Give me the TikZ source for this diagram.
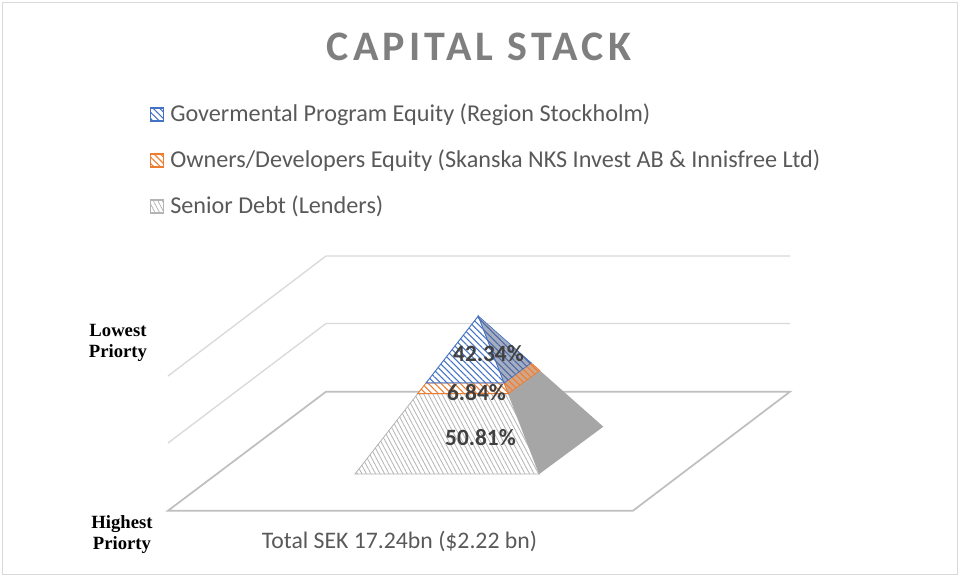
\documentclass[tikz,border=0pt]{standalone}
\usepackage{fontspec}
\setmainfont{Carlito}
\newfontfamily\titlefont{Carlito}[LetterSpace=10]
\newfontfamily\timesfont{Liberation Serif}
\usetikzlibrary{patterns.meta,calc}
\definecolor{blueC}{HTML}{4472C4}
\definecolor{blueSide}{HTML}{A3AEC4}
\definecolor{blueSideLn}{HTML}{4F679A}
\definecolor{orangeC}{HTML}{ED7D31}
\definecolor{orangeSide}{HTML}{D2A688}
\definecolor{grayLn}{HTML}{B4B4B4}
\definecolor{graySide}{HTML}{A6A6A6}
\definecolor{wallC}{HTML}{D9D9D9}
\definecolor{floorC}{HTML}{BFBFBF}
\definecolor{frameC}{HTML}{D9D9D9}
\definecolor{titleC}{HTML}{7F7F7F}
\definecolor{legC}{HTML}{595959}
\definecolor{pctC}{HTML}{404040}
\tikzset{
  wallline/.style={draw=wallC, line width=1pt},
  floorline/.style={draw=floorC, line width=1.3pt},
  bluehatch/.style={pattern={Lines[angle=-45,distance=3.4pt,line width=0.8pt]}, pattern color=blueC},
  bluesidehatch/.style={preaction={fill=blueSide}, pattern={Lines[angle=-45,distance=3.4pt,line width=0.8pt]}, pattern color=blueSideLn},
  orangehatch/.style={pattern={Lines[angle=-45,distance=3.4pt,line width=0.8pt]}, pattern color=orangeC},
  orangesidehatch/.style={preaction={fill=orangeSide}, pattern={Lines[angle=-45,distance=3.4pt,line width=0.8pt]}, pattern color=orangeC},
  grayhatch/.style={pattern={Lines[angle=-62,distance=3pt,line width=0.6pt]}, pattern color=grayLn},
  legtext/.style={anchor=base west, text=legC, font=\fontsize{18.15pt}{20pt}\selectfont, inner sep=0pt},
  pctlabel/.style={anchor=base, text=pctC, font=\fontsize{17.5pt}{20pt}\selectfont\bfseries, inner sep=0pt},
  prio/.style={align=center, font=\timesfont\bfseries\fontsize{14pt}{15.75pt}\selectfont, inner sep=0pt, anchor=base},
}
\begin{document}
\begin{tikzpicture}[x=0.75pt,y=-0.75pt]
\useasboundingbox (0,0) rectangle (960,577);
\draw[draw=frameC, line width=1.1pt] (2.5,2.5) rectangle (957.5,574.5);

% title
\node[anchor=base, text=titleC, font=\titlefont\fontsize{31.5pt}{34pt}\selectfont\bfseries, inner sep=0pt] (title) at (479,60.5) {CAPITAL STACK};

% legend
\draw[blueC, line width=0.8pt, bluehatch] (150.5,108) rectangle (163.5,121);
\node[legtext] (leg1) at (170,122) {Govermental Program Equity (Region Stockholm)};
\draw[orangeC, line width=0.8pt, orangehatch] (150.5,154) rectangle (163.5,167);
\node[legtext] (leg2) at (170,168) {Owners/Developers Equity (Skanska NKS Invest AB \& Innisfree Ltd)};
\draw[grayLn, line width=0.8pt, grayhatch] (150.5,200) rectangle (163.5,213);
\node[legtext] (leg3) at (170,214) {Senior Debt (Lenders)};

% walls and floor
\draw[wallline] (790,256) -- (326,256) -- (168,376);
\draw[wallline] (790,323.5) -- (326,323.5) -- (168,443);
\draw[floorline] (326,391.7) -- (790,391.7) -- (633,510.7) -- (168,510.7) -- cycle;

% pyramid
\coordinate (A) at (478.3,316);
\coordinate (FL) at (355,474);
\coordinate (FR) at (539.3,474);
\coordinate (BR) at (603.3,426.7);
\coordinate (P1L) at ($(A)!0.4234!(FL)$);
\coordinate (P1R) at ($(A)!0.4234!(FR)$);
\coordinate (P1B) at ($(A)!0.4234!(BR)$);
\coordinate (P2L) at ($(A)!0.4918!(FL)$);
\coordinate (P2R) at ($(A)!0.4918!(FR)$);
\coordinate (P2B) at ($(A)!0.4918!(BR)$);

\fill[white] (P2L) -- (P2R) -- (FR) -- (FL) -- cycle;
\fill[grayhatch] (P2L) -- (P2R) -- (FR) -- (FL) -- cycle;
\draw[grayLn, line width=0.6pt] (P2L) -- (P2R) -- (FR) -- (FL) -- cycle;
\fill[graySide] (P2R) -- (P2B) -- (BR) -- (FR) -- cycle;

\fill[white] (P1L) -- (P1R) -- (P2R) -- (P2L) -- cycle;
\filldraw[orangehatch, draw=orangeC, line width=0.7pt] (P1L) -- (P1R) -- (P2R) -- (P2L) -- cycle;
\filldraw[orangesidehatch, draw=orangeC, line width=0.5pt] (P1R) -- (P1B) -- (P2B) -- (P2R) -- cycle;

\fill[white] (A) -- (P1L) -- (P1R) -- cycle;
\filldraw[bluehatch, draw=blueC, line width=0.7pt] (A) -- (P1L) -- (P1R) -- cycle;
\filldraw[bluesidehatch, draw=blueC, line width=0.5pt] (A) -- (P1R) -- (P1B) -- cycle;

% percentage labels
\node[pctlabel] (p1) at (488.5,361) {42.34\%};
\node[pctlabel] (p2) at (476.5,400) {6.84\%};
\node[pctlabel] (p3) at (480.5,445.7) {50.81\%};

% priority labels
\node[prio] (low) at (118,357) {Lowest\\Priorty};
\node[prio] (high) at (122,549) {Highest\\Priorty};

% total
\node[anchor=base, text=legC, font=\fontsize{17.8pt}{20pt}\selectfont, inner sep=0pt] (total) at (399.5,548) {Total SEK 17.24bn (\$2.22 bn)};
\end{tikzpicture}
\end{document}
